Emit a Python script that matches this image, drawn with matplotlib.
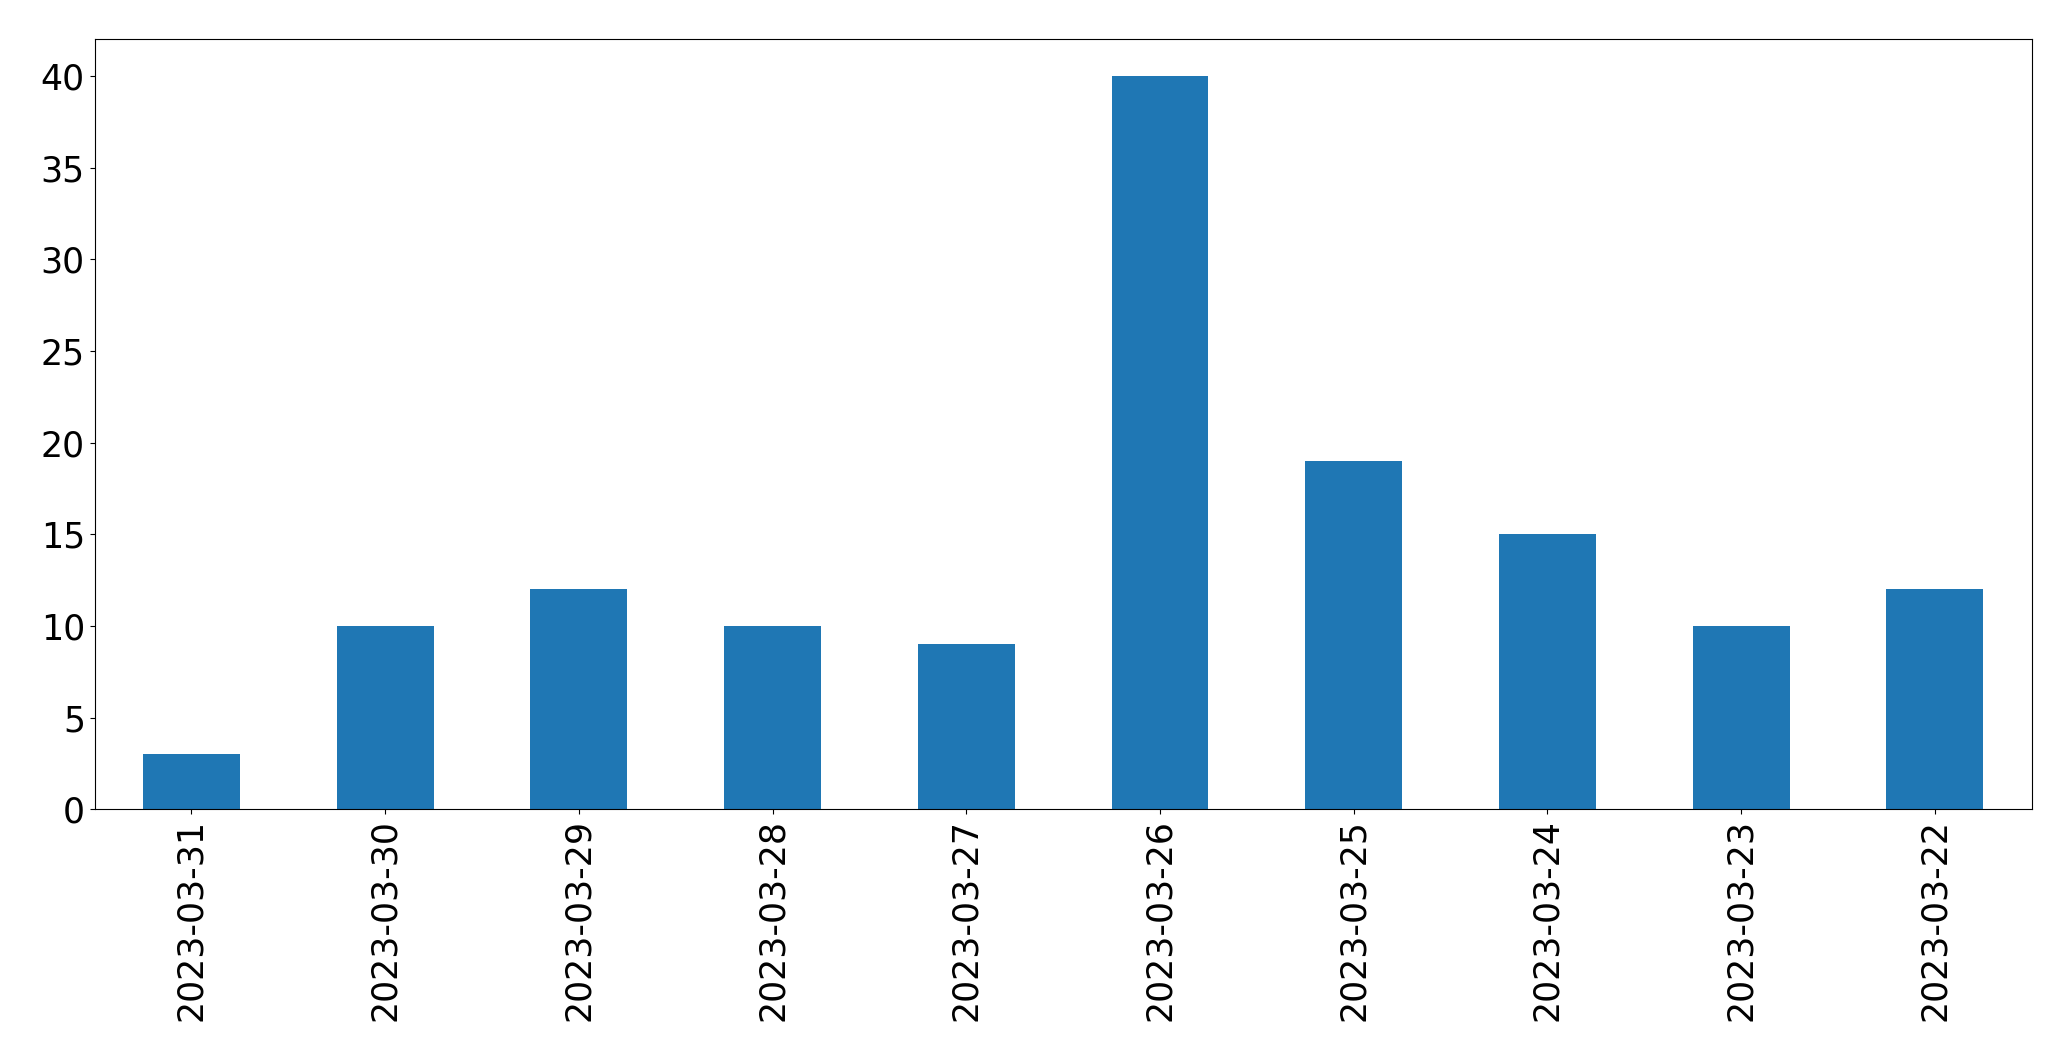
import matplotlib
matplotlib.use("Agg")
import matplotlib.pyplot as plt

# daily counts, newest first
dates = ["2023-03-31", "2023-03-30", "2023-03-29", "2023-03-28", "2023-03-27",
         "2023-03-26", "2023-03-25", "2023-03-24", "2023-03-23", "2023-03-22"]
counts = [3, 10, 12, 10, 9, 40, 19, 15, 10, 12]

fig, ax = plt.subplots(figsize=(20.71, 10.61), dpi=100)
fig.subplots_adjust(left=0.0457, right=0.981, top=0.963, bottom=0.2372)

x = range(len(dates))
ax.bar(x, counts, width=0.5, color="#1f77b4")
ax.set_xticks(list(x))
ax.set_xticklabels(dates, rotation=90, fontsize=25)
ax.tick_params(axis="y", labelsize=25)
ax.set_xlim(-0.5, len(dates) - 0.5)
ax.set_ylim(0, 42)

plt.savefig("out.png", dpi=100)
